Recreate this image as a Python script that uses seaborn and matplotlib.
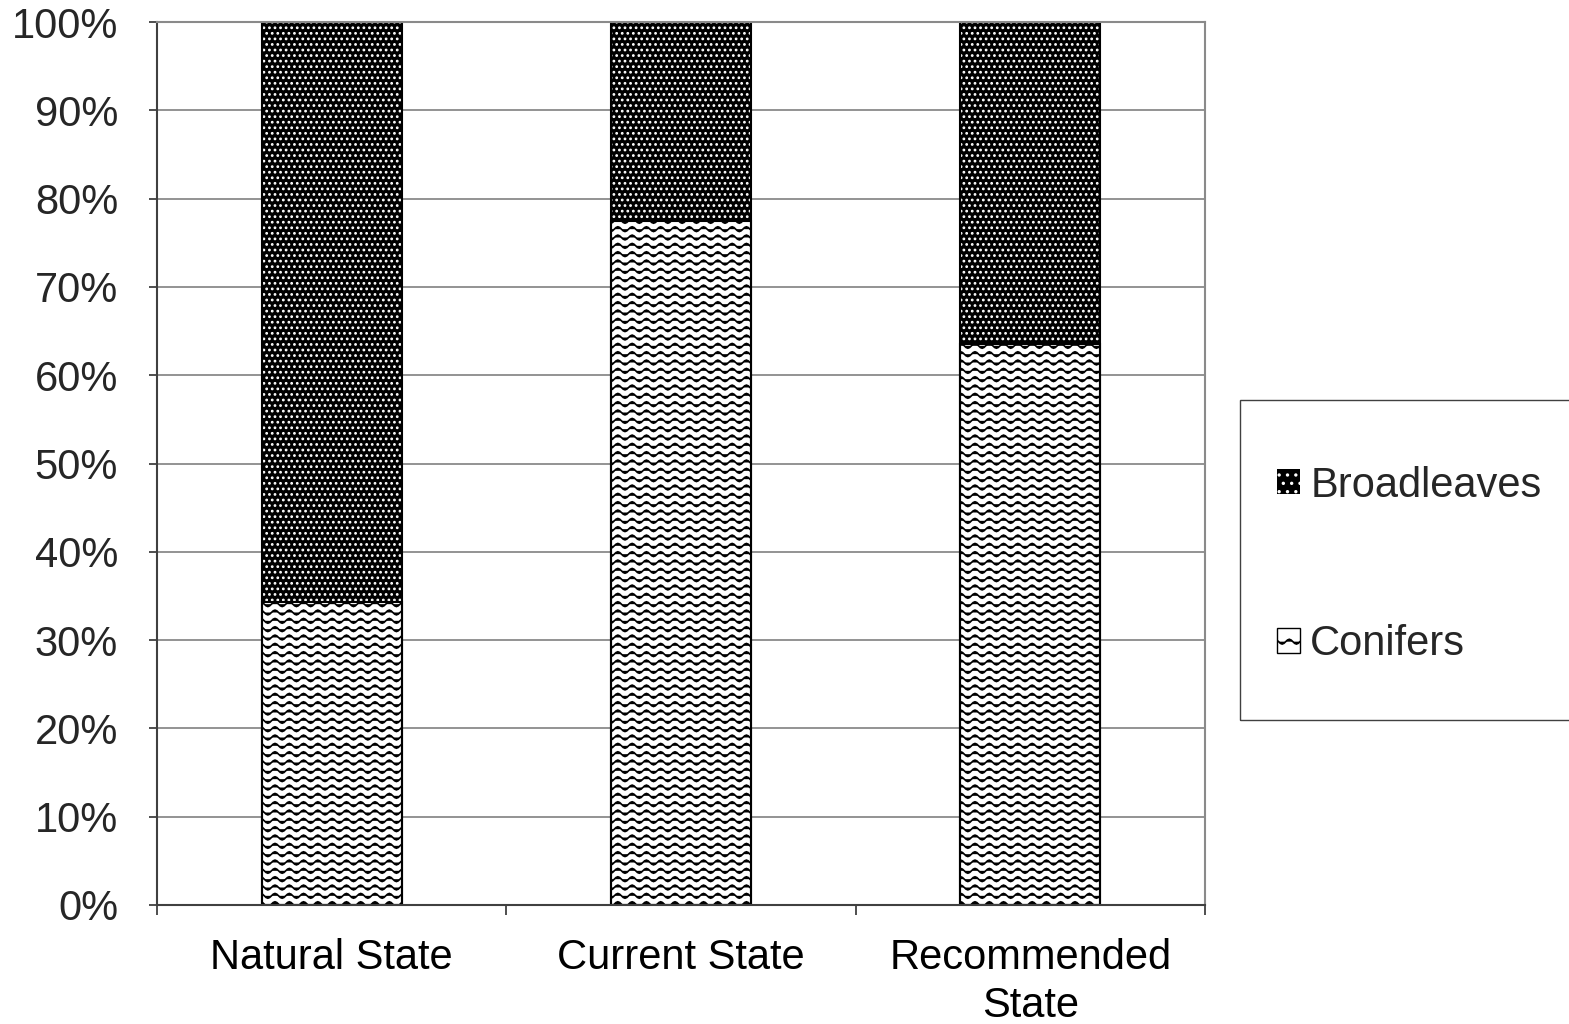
#Import Libraries
import warnings
import numpy as np
import matplotlib
matplotlib.use('Agg')
import matplotlib.pyplot as plt
import matplotlib.hatch as mhatch
import matplotlib.patches as mpatches
from matplotlib.path import Path
import seaborn as sns

warnings.filterwarnings('ignore')

#Chart data (percent of forest area)
states = ['Natural State', 'Current State', 'Recommended\nState']
conifers = [34.3, 77.5, 63.5]
broadleaves = [65.7, 22.5, 36.5]
totals = [c + b for c, b in zip(conifers, broadleaves)]
yTicks = list(range(0, 101, 10))
yTickLabels = [f'{v}%' for v in yTicks]


#Custom wavy hatch ('~') for the conifers fill
class WaveHatch(mhatch.HatchPatternBase):
    def __init__(self, hatch, density):
        self.numRows = int(hatch.count('~') * density)
        self.numWaves = 7
        self.pts = self.numWaves * 8 + 1
        self.num_vertices = self.numRows * self.pts

    def set_vertices_and_codes(self, vertices, codes):
        xs = np.linspace(0.0, 1.0, self.pts)
        wave = 0.024 * np.sin(2 * np.pi * self.numWaves * xs)
        for row in range(self.numRows):
            y0 = (row + 0.5) / self.numRows
            chunk = slice(row * self.pts, (row + 1) * self.pts)
            vertices[chunk, 0] = xs
            vertices[chunk, 1] = y0 + wave
            codes[chunk] = Path.LINETO
            codes[row * self.pts] = Path.MOVETO


mhatch._hatch_types.append(WaveHatch)

sns.set_style('white')
plt.rcParams['font.family'] = ['Liberation Sans', 'DejaVu Sans']
plt.rcParams['hatch.linewidth'] = 1.2
fontSize = 30

fig = plt.figure(figsize=(15.69, 10.24), dpi=100)
ax = fig.add_axes([157 / 1569, 1 - 905 / 1024, (1205 - 157) / 1569, (905 - 22) / 1024])

#Broadleaves (full stack), then conifers on top of it, then outlines
sns.barplot(x=states, y=totals, color='black', edgecolor='white', hatch='...',
            linewidth=0, width=0.4, saturation=1, ax=ax)
sns.barplot(x=states, y=conifers, color='white', edgecolor='black', hatch='~~',
            linewidth=1.5, width=0.4, saturation=1, ax=ax)
sns.barplot(x=states, y=totals, color='black', fill=False,
            linewidth=1.5, width=0.4, saturation=1, ax=ax)

ax.set_xlim(-0.5, 2.5)
ax.set_ylim(0, 100)
ax.set_yticks(yTicks)
ax.set_yticklabels(yTickLabels, fontsize=fontSize)
ax.set_xticks(range(len(states)))
ax.set_xticklabels(states, fontsize=fontSize, linespacing=1.25)
ax.set_xticks([-0.5, 0.5, 1.5, 2.5], minor=True)
ax.set_xlabel('')
ax.set_ylabel('')

ax.set_axisbelow(True)
ax.yaxis.grid(True, color='#808080', linewidth=1.2)
ax.xaxis.grid(False)

ax.tick_params(axis='x', which='major', length=0, pad=24, colors='black')
ax.tick_params(axis='x', which='minor', length=7, width=1.3, color='#404040', direction='out', bottom=True)
ax.tick_params(axis='y', which='major', length=6, width=1.3, color='#404040', direction='out', left=True, pad=22)

for side in ['top', 'right']:
    ax.spines[side].set_color('#8a8a8a')
    ax.spines[side].set_linewidth(1.5)
for side in ['left', 'bottom']:
    ax.spines[side].set_color('#404040')
    ax.spines[side].set_linewidth(1.5)

#Legend
handles = [
    mpatches.Patch(facecolor='black', edgecolor='white', hatch='..', linewidth=0, label='Broadleaves'),
    mpatches.Patch(facecolor='white', edgecolor='black', hatch='~', linewidth=1, label='Conifers'),
]
fig.legend(handles=handles, loc='center left', bbox_to_anchor=(1277 / 1569, 1 - 565 / 1024),
           frameon=False, fontsize=fontSize, borderpad=0, borderaxespad=0,
           handlelength=0.55, handleheight=0.55, handletextpad=0.25, labelspacing=2.85)
fig.add_artist(mpatches.Rectangle((1240 / 1569, 1 - 720 / 1024), (1580 - 1240) / 1569, 320 / 1024,
                                  transform=fig.transFigure, fill=False,
                                  edgecolor='#404040', linewidth=1))

plt.savefig('out.png', dpi=100)
